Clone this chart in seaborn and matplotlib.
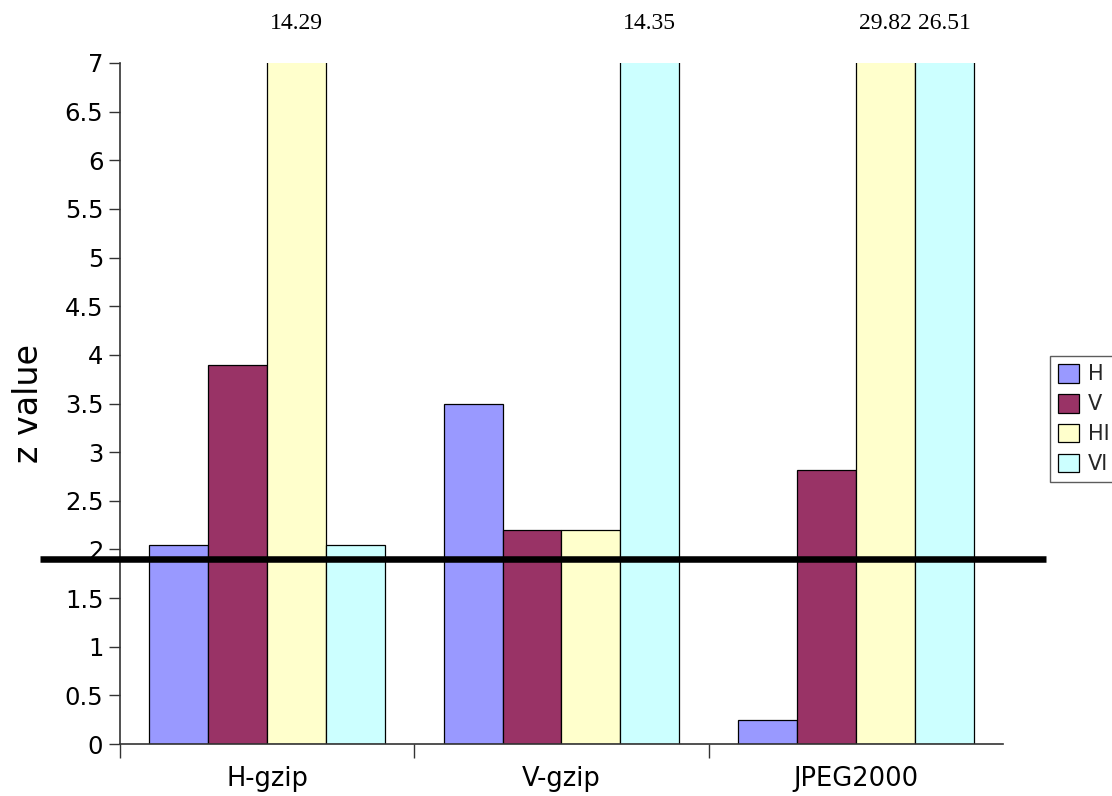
import matplotlib
matplotlib.use("Agg")
import matplotlib.pyplot as plt
import seaborn as sns
import pandas as pd
from matplotlib.patches import Patch

# Data
categories = ["H-gzip", "V-gzip", "JPEG2000"]
series = ["H", "V", "HI", "VI"]
values_H = [2.05, 3.50, 0.25]
values_V = [3.90, 2.20, 2.82]
values_HI = [14.29, 2.20, 29.82]
values_VI = [2.05, 14.35, 26.51]
threshold = 1.9
colors = ["#9999ff", "#993366", "#ffffcc", "#ccffff"]
y_max = 7

rows = []
for name, vals in zip(series, [values_H, values_V, values_HI, values_VI]):
    for cat, v in zip(categories, vals):
        rows.append({"method": cat, "series": name, "z": v})
df = pd.DataFrame(rows)

sns.set_theme(style="white")
plt.rcParams["font.family"] = ["DejaVu Sans"]

fig = plt.figure(figsize=(11.12, 7.96), dpi=100)
ax = fig.add_axes([120 / 1112, 1 - 744 / 796, 883 / 1112, 681 / 796])

sns.barplot(data=df, x="method", y="z", hue="series", hue_order=series,
            order=categories, palette=colors, width=0.8, saturation=1,
            edgecolor="black", linewidth=0.9, ax=ax, legend=False)

ax.set_ylim(0, y_max)
ax.set_xlim(-0.5, len(categories) - 0.5)

# Y axis
yt = [i * 0.5 for i in range(0, 2 * y_max + 1)]
ax.set_yticks(yt)
ax.set_yticklabels([f"{t:g}" for t in yt], fontsize=17.5, color="black")
ax.tick_params(axis="y", direction="out", length=8, width=1, color="#333333",
               left=True, pad=4)

# X axis: ticks between groups, labels at group centres
ax.set_xticks([i - 0.5 for i in range(len(categories))])
ax.set_xticklabels([])
ax.set_xticks(range(len(categories)), minor=True)
ax.set_xticklabels(categories, minor=True, fontsize=18.5, color="black")
ax.tick_params(axis="x", which="major", direction="out", length=10, width=1,
               color="#333333", bottom=True)
ax.tick_params(axis="x", which="minor", length=0, pad=16)
ax.set_xlabel("")
ax.set_ylabel("z value", fontsize=24, color="black")
ax.yaxis.set_label_coords(-0.085, 0.5)

for side in ["top", "right"]:
    ax.spines[side].set_visible(False)
for side in ["left", "bottom"]:
    ax.spines[side].set_color("#333333")
    ax.spines[side].set_linewidth(1.2)

# Significance threshold line, extending past the axes
ax.axhline(threshold, xmin=-0.0906, xmax=1.0487, color="black",
           linewidth=4.7, clip_on=False, zorder=5, solid_capstyle="butt")

# Values of bars that run off the top of the scale
for bar in ax.patches:
    h = bar.get_height()
    if h > y_max:
        cx = bar.get_x() + bar.get_width() / 2
        ax.text(cx, 1.05, f"{h:.2f}", transform=ax.get_xaxis_transform(),
                ha="center", va="baseline", fontsize=17,
                family=["Liberation Serif", "DejaVu Serif"], color="black")

handles = [Patch(facecolor=c, edgecolor="black", linewidth=0.9) for c in colors]
leg = fig.legend(handles, series, loc="center left",
                 bbox_to_anchor=(1050 / 1112, 1 - 419 / 796),
                 bbox_transform=fig.transFigure, fontsize=15,
                 frameon=True, fancybox=False, edgecolor="#333333",
                 handlelength=1.0, handleheight=1.0, labelspacing=0.45,
                 borderaxespad=0, borderpad=0.4, handletextpad=0.4)
leg.get_frame().set_linewidth(1.0)

fig.savefig("out.png", dpi=100)
